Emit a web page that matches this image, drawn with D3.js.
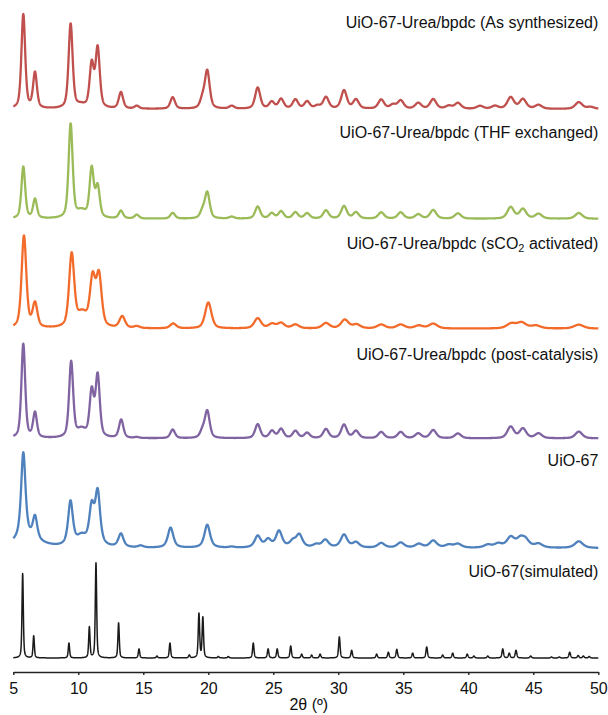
<!DOCTYPE html>
<html lang="en">
	<head>
		<meta charset="utf-8">
		<title>PXRD UiO-67-Urea/bpdc</title>
		<script type="text/javascript" src="https://cdn.jsdelivr.net/npm/d3@7"></script>
		<style>
			body { margin: 0; background: #fff; }
			text { font-family: "Liberation Sans", Arial, sans-serif; }
		</style>
	</head>
	<body>
		<script type="text/javascript">

			// peaks: [2theta, relative intensity (tallest = 100), own fwhm if broad]
			var peaksAsSyn = [[5.77,98],[6.67,37],[9.41,88],[10.2,3,0.8],[11.03,45],[11.49,62],[13.28,17],[14.5,3],[17.26,12],
				[19.55,9],[19.92,39],[21.8,3],[23.8,22],[24.88,7],[25.6,10],[26.7,9.5],[27.6,7.5],[28.4,3],[29.05,12],
				[30.44,19],[31.36,9.5],[33.3,9.5],[34.2,4],[34.8,8.5],[36.15,6],[37.3,10],[38.5,3],[39.2,6],[40.9,3],
				[42.05,3],[43.26,12],[44.2,10],[45.4,4],[48.5,7],[49.4,2]];
			var peaksTHF = [[5.77,54],[6.67,20],[9.41,98],[10.25,7,0.8],[11.03,51],[11.49,32],[13.28,8],[14.5,4],[17.26,6],
				[19.55,7],[19.92,27],[21.8,2],[23.8,12.5],[24.88,5.5],[25.6,7.5],[26.7,6.5],[27.6,5.5],[29.05,8.5],
				[30.44,13],[31.36,6.5],[33.3,6.5],[34.8,6.5],[36.15,4.5],[37.3,9],[39.2,5.5],[43.26,12],
				[44.2,10],[45.4,5],[48.5,6]];
			var peaksSCO2 = [[5.82,96],[6.67,25],[9.49,76],[10.3,14,0.9],[11.1,49],[11.59,53],[13.38,12],[14.5,2],[17.3,5],
				[20.0,27],[23.8,10.5],[24.9,4.5],[25.6,5.5],[26.7,4],[29.05,5.5],[30.5,9],[31.4,4],[33.3,4],[34.8,4],
				[36.2,3],[37.3,5],[43.3,5],[44.1,6],[45.2,3],[48.5,4]];
			var peaksPost = [[5.77,98],[6.67,26],[9.45,79],[10.25,8,0.8],[11.03,47],[11.49,64],[13.3,19],[14.5,1],[17.26,9],
				[19.55,7],[19.92,28],[23.8,14.5],[24.9,7.5],[25.6,9.5],[26.7,7.5],[27.6,5.5],[29.05,9.5],[30.44,14],
				[31.36,7.5],[33.3,6.5],[34.8,6.5],[36.15,5],[37.3,8.5],[39.2,5],[43.26,12],[44.2,10],[45.4,5],
				[48.5,7]];
			var peaksUiO67 = [[6.0,9,2.6],[5.77,90],[6.67,24],[9.4,46],[10.25,10,0.9],[11.03,38],[11.49,55],[13.28,14],[14.8,2],
				[17.1,21],[19.92,24],[21.8,1],[23.8,12],[24.6,8],[25.44,17],[26.5,6],[27.0,13],[28.3,3],[29.0,8],
				[30.44,13.5],[31.36,5.5],[33.3,5],[34.8,5.5],[36.2,4],[37.3,7.5],[38.5,3],[39.2,4],[41.5,3],[42.3,4],
				[43.26,10.5],[44.0,8],[44.4,7],[45.4,4],[48.5,7]];
			var peaksSim = [[5.72,88],[6.57,23],[9.28,15.6],[10.85,32],[11.36,99],[13.1,36.5],[14.67,9.4],[16.05,2],
				[17.05,15.6],[18.54,3],[19.28,46],[19.58,42],[20.77,1.5],[21.54,1.5],[23.46,15.6],[24.6,9.4],[25.3,9.4],
				[26.34,12.5],[27.18,4],[27.95,3],[28.6,4],[30.08,22],[31.03,8],[32.95,4],[33.85,6],[34.5,9],[35.72,5],
				[36.8,11.5],[38.03,3],[38.8,5],[39.92,4],[40.43,2],[41.5,2],[42.65,9.4],[43.15,5],[43.67,8],[44.8,2],
				[46.4,1],[47.0,1],[47.8,6],[48.45,2.5],[48.85,2],[49.3,1.5]];

			var patterns = [peaksAsSyn, peaksTHF, peaksSCO2, peaksPost, peaksUiO67, peaksSim];
			// peak full width at half max (2theta, at low angle) and how fast it grows with angle
			var fwhm = [0.34, 0.34, 0.42, 0.34, 0.4, 0.12];
			var widen = [0.02, 0.02, 0.025, 0.02, 0.02, 0.005];
			var lorentzFrac = [0.5, 0.5, 0.5, 0.5, 0.7, 0.5];
			var names = ["UiO-67-Urea/bpdc (As synthesized)", "UiO-67-Urea/bpdc (THF exchanged)",
				"UiO-67-Urea/bpdc (sCO2 activated)", "UiO-67-Urea/bpdc (post-catalysis)", "UiO-67", "UiO-67(simulated)"];
			var colors = ["#c0504d", "#9bbb59", "#f26b2b", "#8064a2", "#4f81bd", "#1a1a1a"];
			var xTicks = [5, 10, 15, 20, 25, 30, 35, 40, 45, 50];

			//Width and height of svg
			var w = 608;
			var h = 715;
			var left = 13.3;
			var right = 598.3;
			var axisY = 672;

			//Create scale functions
			var xScale = d3.scaleLinear()
						.domain([5, 50])
						.range([left, right]);

			// baseline of each stacked pattern
			var rowScale = d3.scaleLinear()
						.domain([0, 5])
						.range([109, 658]);

			var iScale = d3.scaleLinear()
						.domain([0, 100])
						.range([0, 96]);

			// pseudo-voigt profile sum for one pattern
			function profile(peaks, width, grow, eta){
				var pts = [];
				for (var k = 0; k <= 4500; k++){
					var t = 5 + k * 0.01;
					var s = 0;
					for (var i in peaks){
						var p = peaks[i];
						var pw = p.length > 2 ? p[2] / 2 : width / 2 * (1 + grow * (p[0] - 5));
						var u = (t - p[0]) / pw;
						s += p[1] * (eta / (1 + u * u) + (1 - eta) * Math.exp(-Math.LN2 * u * u));
					}
					pts.push([t, s]);
				}
				return pts;
			}

			//Create SVG element
			var svg = d3.select("body")
						.append("svg")
						.attr("width", w)
						.attr("height", h);

			patterns.forEach(function(peaks, i){
				var base = rowScale(i);
				var line = d3.line()
						.x(function(d) { return xScale(d[0]); })
						.y(function(d) { return base - iScale(d[1]); });

				svg.append("path")
					.attr("d", line(profile(peaks, fwhm[i], widen[i], lorentzFrac[i])))
					.attr("fill", "none")
					.attr("stroke", colors[i])
					.attr("stroke-width", i == 5 ? 1.5 : 2.3)
					.attr("stroke-linejoin", "round");
			});

			// labels
			var labelY = [28, 138, 249, 360, 466, 577];
			names.forEach(function(n, i){
				var t = svg.append("text")
					.attr("x", right)
					.attr("y", labelY[i])
					.attr("text-anchor", "end")
					.attr("font-size", "16px")
					.attr("fill", "#111");
				if (n.indexOf("sCO2") >= 0){
					t.append("tspan").text("UiO-67-Urea/bpdc (sCO");
					t.append("tspan").attr("font-size", "11px").attr("dy", 3).text("2");
					t.append("tspan").attr("dy", -3).text(" activated)");
				} else {
					t.text(n);
				}
			});

			//Define X axis
			var xAxis = d3.axisBottom()
						.scale(xScale)
						.tickValues(xTicks)
						.tickSize(3)
						.tickSizeOuter(0)
						.tickPadding(8);

			//Create X axis
			var gx = svg.append("g")
				.attr("transform", "translate(0," + axisY + ")")
				.call(xAxis);
			gx.select(".domain").attr("stroke", "#222").attr("stroke-width", 1.4);
			gx.selectAll(".tick line").attr("stroke", "#222").attr("stroke-width", 1.4);
			gx.selectAll(".tick text")
				.attr("font-size", "16px")
				.attr("font-family", "Liberation Sans, Arial, sans-serif")
				.attr("fill", "#111");

			// axis title
			svg.append("text")
				.attr("x", (left + right) / 2 + 3)
				.attr("y", 710)
				.attr("text-anchor", "middle")
				.attr("font-size", "16px")
				.attr("fill", "#111")
				.text("2θ (º)");
		</script>
	</body>
</html>
